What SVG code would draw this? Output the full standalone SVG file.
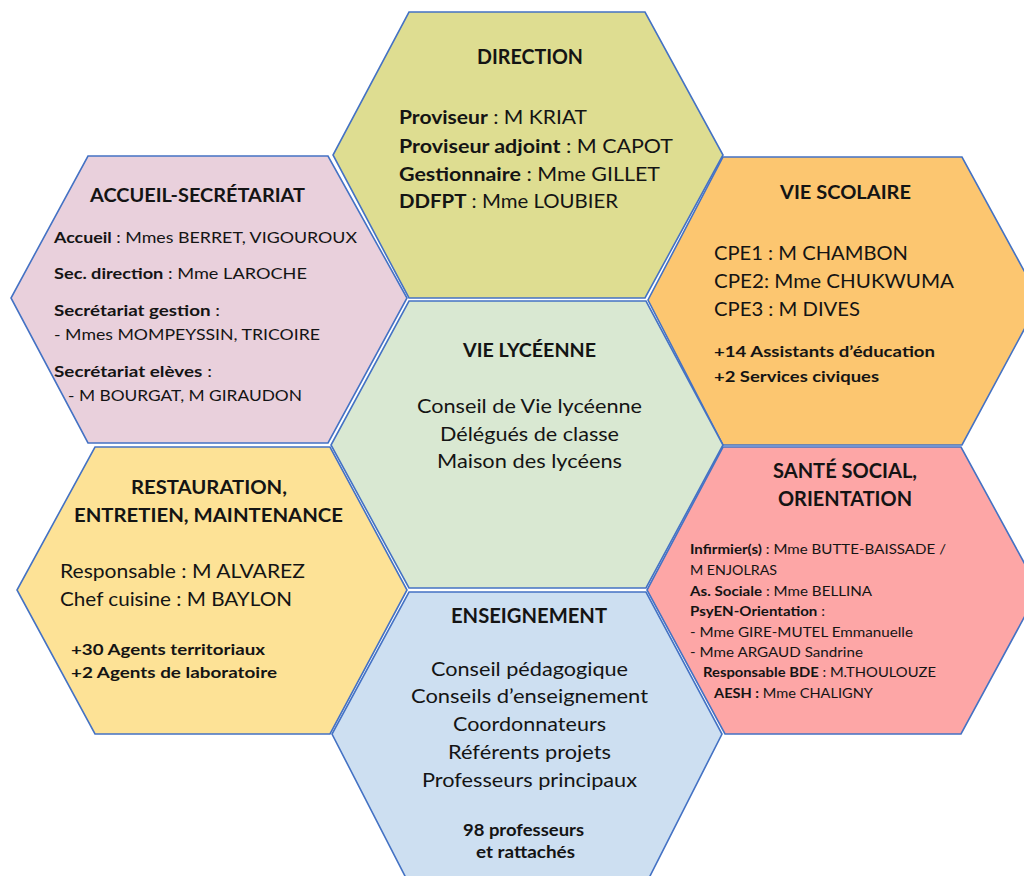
<svg xmlns="http://www.w3.org/2000/svg" width="1024" height="876" viewBox="0 0 1024 876">
<style>
.hex{stroke:#4472c4;stroke-width:1.6;stroke-linejoin:miter}
text{font-family:Lato,"Open Sans","Liberation Sans",sans-serif;fill:#141414}
.b{font-weight:bold}
.s14{font-size:14px}.s16{font-size:16px}.s17{font-size:17px}.s18{font-size:18px}.s19{font-size:19px}.s20{font-size:20px}
</style>
<rect width="1024" height="876" fill="#ffffff"/>

<g id="direction">
<polygon class="hex" fill="#dedd91" points="409,12 645,12 723,155 645,298 409,298 333,155"/>
<text class="b s20" x="477" y="64" textLength="106" lengthAdjust="spacingAndGlyphs">DIRECTION</text>
<text class="s19" x="399" y="124" textLength="188" lengthAdjust="spacingAndGlyphs"><tspan class="b">Proviseur</tspan> : M KRIAT</text>
<text class="s19" x="399" y="153" textLength="274" lengthAdjust="spacingAndGlyphs"><tspan class="b">Proviseur adjoint</tspan> : M CAPOT</text>
<text class="s19" x="399" y="181" textLength="261" lengthAdjust="spacingAndGlyphs"><tspan class="b">Gestionnaire</tspan> : Mme GILLET</text>
<text class="s19" x="399" y="208" textLength="219" lengthAdjust="spacingAndGlyphs"><tspan class="b">DDFPT</tspan> : Mme LOUBIER</text>
</g>

<g id="accueil-secretariat">
<polygon class="hex" fill="#e9d0dc" points="88,156 328,156 407,298 328,443 88,443 11,298"/>
<text class="b s18" x="90" y="202" textLength="215" lengthAdjust="spacingAndGlyphs">ACCUEIL-SECRÉTARIAT</text>
<text class="s16" x="54" y="243" textLength="303" lengthAdjust="spacingAndGlyphs"><tspan class="b">Accueil</tspan> : Mmes BERRET, VIGOUROUX</text>
<text class="s16" x="54" y="279" textLength="253" lengthAdjust="spacingAndGlyphs"><tspan class="b">Sec. direction</tspan> : Mme LAROCHE</text>
<text class="s16" x="54" y="316" textLength="166" lengthAdjust="spacingAndGlyphs"><tspan class="b">Secrétariat gestion</tspan> :</text>
<text class="s16" x="54" y="340" textLength="266" lengthAdjust="spacingAndGlyphs">- Mmes MOMPEYSSIN, TRICOIRE</text>
<text class="s16" x="54" y="377" textLength="158" lengthAdjust="spacingAndGlyphs"><tspan class="b">Secrétariat elèves</tspan> :</text>
<text class="s16" x="68" y="401" textLength="234" lengthAdjust="spacingAndGlyphs">- M BOURGAT, M GIRAUDON</text>
</g>

<g id="vie-scolaire">
<polygon class="hex" fill="#fcc670" points="723,157 962,157 1040,300 962,445 723,445 648,300"/>
<text class="b s19" x="780" y="199" textLength="131" lengthAdjust="spacingAndGlyphs">VIE SCOLAIRE</text>
<text class="s20" x="714" y="260" textLength="194" lengthAdjust="spacingAndGlyphs">CPE1 : M CHAMBON</text>
<text class="s20" x="714" y="288" textLength="240" lengthAdjust="spacingAndGlyphs">CPE2: Mme CHUKWUMA</text>
<text class="s20" x="714" y="316" textLength="146" lengthAdjust="spacingAndGlyphs">CPE3 : M DIVES</text>
<text class="b s16" x="714" y="357" textLength="221" lengthAdjust="spacingAndGlyphs">+14 Assistants d’éducation</text>
<text class="b s16" x="714" y="382" textLength="165" lengthAdjust="spacingAndGlyphs">+2 Services civiques</text>
</g>

<g id="vie-lyceenne">
<polygon class="hex" fill="#d9e8d2" points="409,301 646,301 723,445 646,588 409,588 331,445"/>
<text class="b s19" x="463" y="357" textLength="133" lengthAdjust="spacingAndGlyphs">VIE LYCÉENNE</text>
<text class="s19" x="417" y="413" textLength="225" lengthAdjust="spacingAndGlyphs">Conseil de Vie lycéenne</text>
<text class="s19" x="440" y="441" textLength="179" lengthAdjust="spacingAndGlyphs">Délégués de classe</text>
<text class="s19" x="437" y="468" textLength="185" lengthAdjust="spacingAndGlyphs">Maison des lycéens</text>
</g>

<g id="restauration">
<polygon class="hex" fill="#fde296" points="95,447 330,447 407,590 330,734 95,734 17,590"/>
<text class="b s19" x="131" y="494" textLength="156" lengthAdjust="spacingAndGlyphs">RESTAURATION,</text>
<text class="b s19" x="74" y="522" textLength="269" lengthAdjust="spacingAndGlyphs">ENTRETIEN, MAINTENANCE</text>
<text class="s20" x="60" y="578" textLength="245" lengthAdjust="spacingAndGlyphs">Responsable : M ALVAREZ</text>
<text class="s20" x="60" y="606" textLength="232" lengthAdjust="spacingAndGlyphs">Chef cuisine : M BAYLON</text>
<text class="b s16" x="71" y="655" textLength="194" lengthAdjust="spacingAndGlyphs">+30 Agents territoriaux</text>
<text class="b s16" x="71" y="678" textLength="206" lengthAdjust="spacingAndGlyphs">+2 Agents de laboratoire</text>
</g>

<g id="sante-social-orientation">
<polygon class="hex" fill="#fda6a6" points="723,447 961,447 1039,590 961,734 725,734 647,590"/>
<text class="b s20" x="773" y="478" textLength="144" lengthAdjust="spacingAndGlyphs">SANTÉ SOCIAL,</text>
<text class="b s20" x="778" y="506" textLength="134" lengthAdjust="spacingAndGlyphs">ORIENTATION</text>
<text class="s14" x="690" y="554" textLength="256" lengthAdjust="spacingAndGlyphs"><tspan class="b">Infirmier(s)</tspan> : Mme BUTTE-BAISSADE /</text>
<text class="s14" x="690" y="575" textLength="87" lengthAdjust="spacingAndGlyphs">M ENJOLRAS</text>
<text class="s14" x="690" y="596" textLength="182" lengthAdjust="spacingAndGlyphs"><tspan class="b">As. Sociale</tspan> : Mme BELLINA</text>
<text class="s14" x="690" y="616" textLength="135" lengthAdjust="spacingAndGlyphs"><tspan class="b">PsyEN-Orientation</tspan> :</text>
<text class="s14" x="690" y="637" textLength="223" lengthAdjust="spacingAndGlyphs">- Mme GIRE-MUTEL Emmanuelle</text>
<text class="s14" x="690" y="657" textLength="173" lengthAdjust="spacingAndGlyphs">- Mme ARGAUD Sandrine</text>
<text class="s14" x="703" y="677" textLength="233" lengthAdjust="spacingAndGlyphs"><tspan class="b">Responsable BDE</tspan> : M.THOULOUZE</text>
<text class="s14" x="714" y="698" textLength="159" lengthAdjust="spacingAndGlyphs"><tspan class="b">AESH :</tspan> Mme CHALIGNY</text>
</g>

<g id="enseignement">
<polygon class="hex" fill="#cddff1" points="409,592 646,592 722,734 649,878 406,878 332,734"/>
<text class="b s20" x="451" y="623" textLength="156" lengthAdjust="spacingAndGlyphs">ENSEIGNEMENT</text>
<text class="s20" x="431" y="676" textLength="197" lengthAdjust="spacingAndGlyphs">Conseil pédagogique</text>
<text class="s20" x="411" y="703" textLength="237" lengthAdjust="spacingAndGlyphs">Conseils d’enseignement</text>
<text class="s20" x="453" y="731" textLength="153" lengthAdjust="spacingAndGlyphs">Coordonnateurs</text>
<text class="s20" x="448" y="759" textLength="163" lengthAdjust="spacingAndGlyphs">Référents projets</text>
<text class="s20" x="422" y="787" textLength="215" lengthAdjust="spacingAndGlyphs">Professeurs principaux</text>
<text class="b s17" x="463" y="836" textLength="121" lengthAdjust="spacingAndGlyphs">98 professeurs</text>
<text class="b s17" x="476" y="858" textLength="99" lengthAdjust="spacingAndGlyphs">et rattachés</text>
</g>
</svg>
